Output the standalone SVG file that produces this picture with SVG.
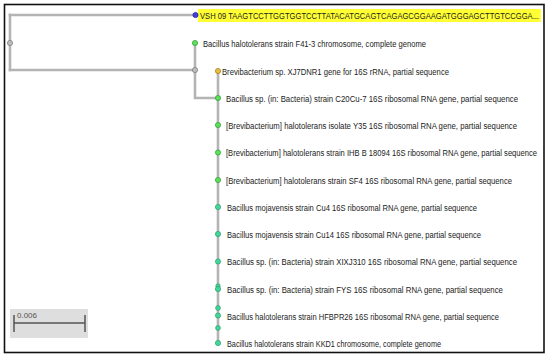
<svg xmlns="http://www.w3.org/2000/svg" width="550" height="359" viewBox="0 0 550 359">
<style>
.br{stroke:#b4b4b4;stroke-width:2.6;fill:none;stroke-linecap:square}
.lb{font-family:"Liberation Sans",Arial,sans-serif;font-size:9.3px;fill:#222}
.g{fill:#5be05b;stroke:#2f9e2f;stroke-width:0.7}
.t{fill:#45d79a;stroke:#2a9c6c;stroke-width:0.7}
.i{fill:#bdbdbd;stroke:#777;stroke-width:0.7}
</style>
<rect x="0" y="0" width="550" height="359" fill="#fff"/>
<rect x="4.5" y="4.5" width="539.5" height="348" fill="#fff" stroke="#111" stroke-width="1.6"/>
<g id="connectors">
<path class="br" d="M10,15 V70"/>
<path class="br" d="M10,15 H195"/>
<path class="br" d="M10,70 H195"/>
<path class="br" d="M195,43 V98 H218"/>
<path class="br" d="M218,71 V343"/>
</g>
<g id="root"><circle cx="10" cy="43" r="2.6" class="i"/></g>
<g id="inner1"><circle cx="195" cy="70" r="2.6" class="i"/></g>
<g id="n1">
<rect x="198" y="9" width="343" height="13" fill="#ffff33"/>
<circle cx="195.5" cy="15" r="2.6" fill="#4040e0" stroke="#22228a" stroke-width="0.7"/>
<text class="lb" transform="translate(200,18.5) scale(0.78,1)" textLength="434.6" lengthAdjust="spacingAndGlyphs">VSH 09 TAAGTCCTTGGTGGTCCTTATACATGCAGTCAGAGCGGAAGATGGGAGCTTGTCCGGA...</text>
</g>
<g id="n2"><circle cx="195" cy="43" r="2.6" class="g"/><text class="lb" transform="translate(203,46.5) scale(0.78,1)" textLength="285.9" lengthAdjust="spacingAndGlyphs">Bacillus halotolerans strain F41-3 chromosome, complete genome</text></g>
<g id="n3"><circle cx="218" cy="71" r="2.6" fill="#e8c040" stroke="#a07a10" stroke-width="0.7"/><text class="lb" transform="translate(222,74.5) scale(0.78,1)" textLength="291" lengthAdjust="spacingAndGlyphs">Brevibacterium sp. XJ7DNR1 gene for 16S rRNA, partial sequence</text></g>
<g id="n4"><circle cx="218" cy="98" r="2.6" class="g"/><text class="lb" transform="translate(226,102) scale(0.78,1)" textLength="374.4" lengthAdjust="spacingAndGlyphs">Bacillus sp. (in: Bacteria) strain C20Cu-7 16S ribosomal RNA gene, partial sequence</text></g>
<g id="n5"><circle cx="218" cy="125" r="2.6" class="g"/><text class="lb" transform="translate(226,129) scale(0.78,1)" textLength="373.1" lengthAdjust="spacingAndGlyphs">[Brevibacterium] halotolerans isolate Y35 16S ribosomal RNA gene, partial sequence</text></g>
<g id="n6"><circle cx="218" cy="152.5" r="2.6" class="g"/><text class="lb" transform="translate(226,156) scale(0.78,1)" textLength="398.7" lengthAdjust="spacingAndGlyphs">[Brevibacterium] halotolerans strain IHB B 18094 16S ribosomal RNA gene, partial sequence</text></g>
<g id="n7"><circle cx="218" cy="180" r="2.6" class="g"/><text class="lb" transform="translate(226,183.5) scale(0.78,1)" textLength="366.7" lengthAdjust="spacingAndGlyphs">[Brevibacterium] halotolerans strain SF4 16S ribosomal RNA gene, partial sequence</text></g>
<g id="n8"><circle cx="218" cy="207" r="2.6" class="t"/><text class="lb" transform="translate(227,210.5) scale(0.78,1)" textLength="320.5" lengthAdjust="spacingAndGlyphs">Bacillus mojavensis strain Cu4 16S ribosomal RNA gene, partial sequence</text></g>
<g id="n9"><circle cx="218" cy="234" r="2.6" class="t"/><text class="lb" transform="translate(227,237.5) scale(0.78,1)" textLength="325.6" lengthAdjust="spacingAndGlyphs">Bacillus mojavensis strain Cu14 16S ribosomal RNA gene, partial sequence</text></g>
<g id="n10"><circle cx="218" cy="261.5" r="2.6" class="t"/><text class="lb" transform="translate(227,265) scale(0.78,1)" textLength="371.8" lengthAdjust="spacingAndGlyphs">Bacillus sp. (in: Bacteria) strain XIXJ310 16S ribosomal RNA gene, partial sequence</text></g>
<g id="n11"><circle cx="218" cy="286" r="2.2" class="t"/><circle cx="218" cy="289" r="2.6" class="t"/><text class="lb" transform="translate(227,292.5) scale(0.78,1)" textLength="353.8" lengthAdjust="spacingAndGlyphs">Bacillus sp. (in: Bacteria) strain FYS 16S ribosomal RNA gene, partial sequence</text></g>
<g id="n12"><circle cx="218" cy="308" r="2.4" class="t"/><circle cx="218" cy="315.5" r="2.6" class="t"/><text class="lb" transform="translate(227,319.5) scale(0.78,1)" textLength="348.7" lengthAdjust="spacingAndGlyphs">Bacillus halotolerans strain HFBPR26 16S ribosomal RNA gene, partial sequence</text></g>
<g id="n13"><circle cx="218" cy="328" r="2.4" class="t"/><circle cx="218" cy="343" r="2.6" class="t"/><text class="lb" transform="translate(227,346.5) scale(0.78,1)" textLength="274.4" lengthAdjust="spacingAndGlyphs">Bacillus halotolerans strain KKD1 chromosome, complete genome</text></g>
<g id="scale">
<rect x="10" y="309" width="78" height="29" fill="#dedede"/>
<path d="M14,323 H85 M14,315 V332 M85,315 V332" stroke="#555" stroke-width="1.5" fill="none"/>
<text x="17" y="317.5" font-family="Liberation Sans,Arial,sans-serif" font-size="8" fill="#555">0.006</text>
</g>
</svg>
